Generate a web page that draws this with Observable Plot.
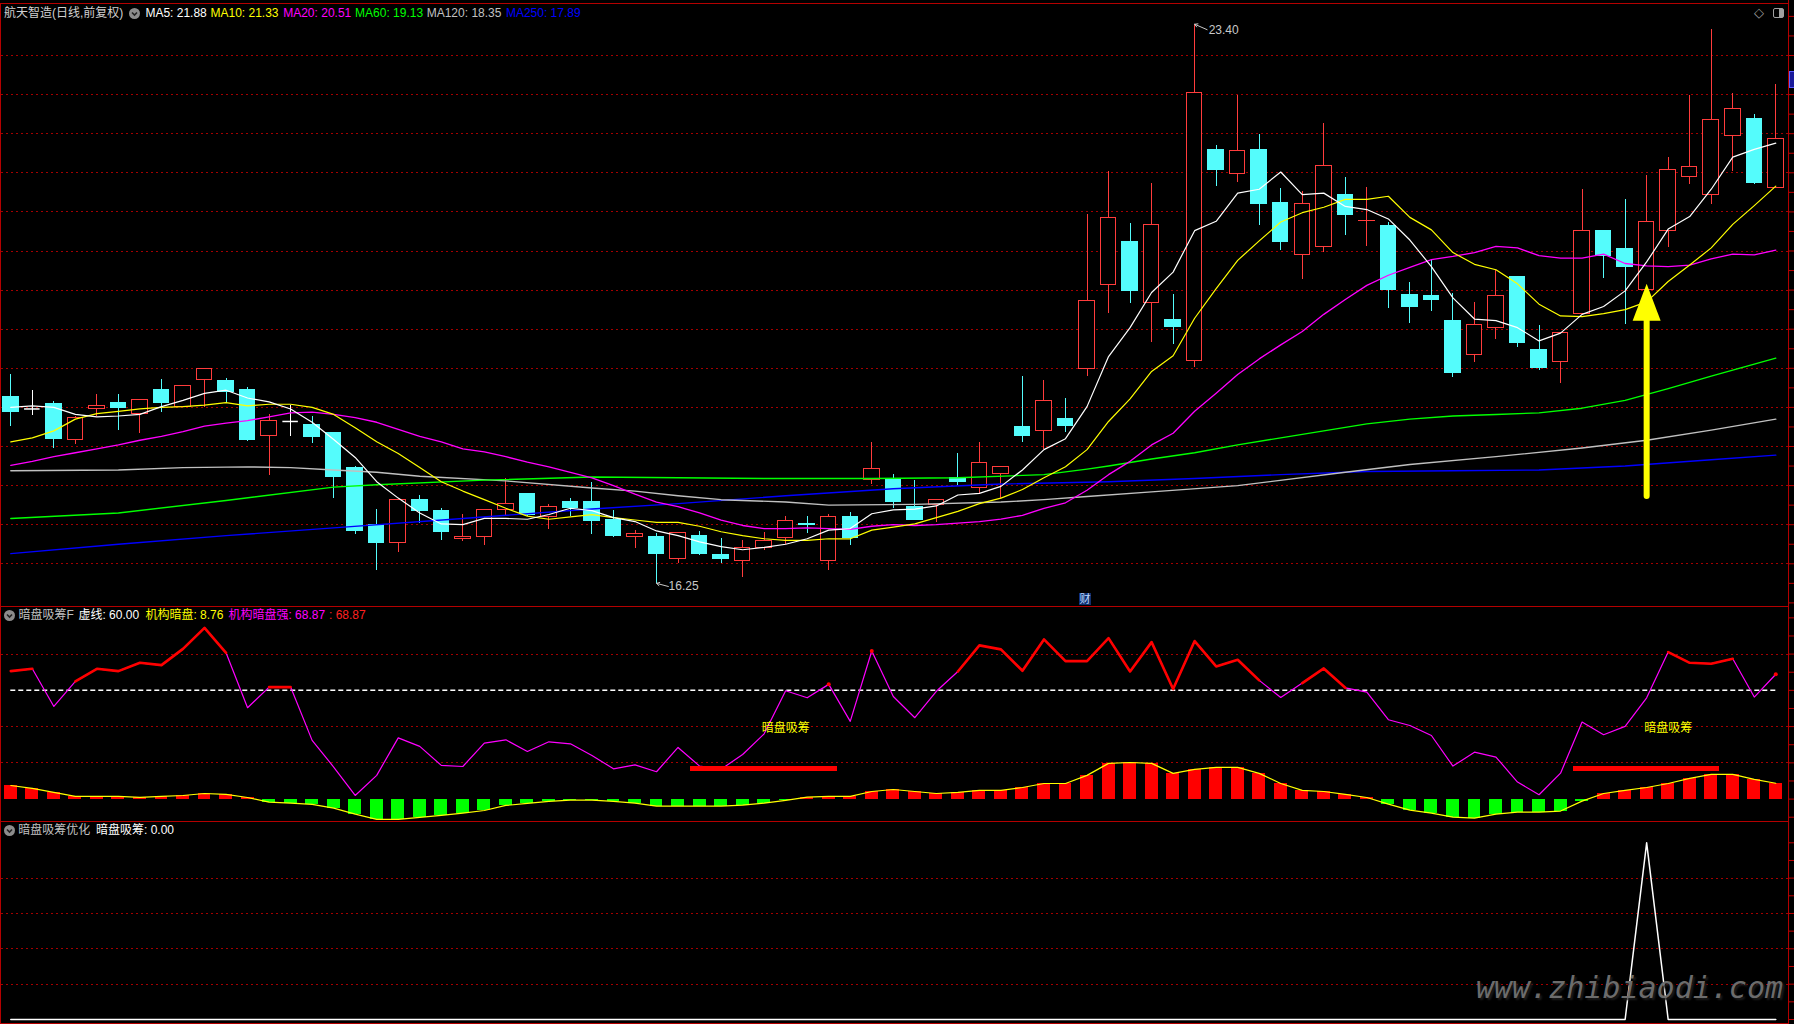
<!DOCTYPE html>
<html><head><meta charset="utf-8">
<script src="https://cdn.jsdelivr.net/npm/d3@7"></script>
<script src="https://cdn.jsdelivr.net/npm/@observablehq/plot@0.6"></script>
<style>
html,body{margin:0;padding:0;background:#000;}
#root{position:relative;width:1794px;height:1024px;background:#000;overflow:hidden;font-family:"Liberation Sans",Arial,"Noto Sans CJK SC",sans-serif;}
#root svg.pp{position:absolute;left:0;}
.lbl{position:absolute;font-size:12px;line-height:14px;white-space:nowrap;font-family:"Liberation Sans","Noto Sans CJK SC",sans-serif;}
.hl{position:absolute;background:#b40000;}
.ico{position:absolute;width:11px;height:11px;}
</style></head><body><div id="root"></div>
<script>
// ---------- data ----------
const stockName = "航天智造(日线,前复权)";
const openP = [18.63,18.48,18.54,18.08,18.48,18.55,18.42,18.72,18.51,18.85,
18.84,18.72,18.14,18.32,18.27,18.17,17.73,16.99,16.77,17.32,
17.17,16.82,16.84,17.19,17.39,17.10,17.29,17.29,17.06,16.84,
16.84,16.56,16.86,16.61,16.53,16.70,16.83,17.01,16.54,17.10,
17.57,17.57,17.23,17.25,17.60,17.47,17.65,18.25,18.20,18.35,
18.99,20.07,20.62,19.84,19.62,19.09,21.79,21.49,21.79,21.12,
20.45,20.55,21.21,20.88,20.82,19.94,19.93,19.61,19.17,19.52,
20.17,19.23,19.08,19.70,20.75,20.52,20.00,20.76,21.45,21.21,
21.97,22.19,21.31];
const highP = [18.92,18.72,18.57,18.39,18.67,18.67,18.59,18.86,18.78,19.00,
18.87,18.75,18.41,18.52,18.38,18.17,17.75,17.19,17.31,17.37,
17.21,17.13,17.19,17.59,17.39,17.26,17.34,17.54,17.18,16.92,
16.89,16.89,16.91,16.82,16.80,16.90,17.10,17.10,17.13,17.15,
18.05,17.64,17.57,17.32,17.91,18.05,17.74,18.89,18.84,18.62,
20.97,21.52,20.85,21.36,19.94,23.40,21.85,22.49,21.99,21.30,
21.26,22.13,21.44,21.31,20.86,20.10,20.38,19.96,19.84,20.25,
20.17,19.55,19.45,21.29,20.76,21.16,21.47,21.70,22.49,23.33,
22.51,22.25,22.63];
const lowP = [18.25,18.40,17.97,18.02,18.38,18.20,18.16,18.44,18.50,18.50,
18.55,18.07,17.63,18.13,18.04,17.33,16.87,16.42,16.65,17.01,
16.80,16.79,16.73,17.12,17.10,16.94,17.10,16.87,16.84,16.69,
16.25,16.50,16.61,16.51,16.32,16.67,16.75,16.89,16.42,16.74,
17.51,17.21,17.06,17.03,17.50,17.38,17.34,18.05,17.96,18.18,
18.90,19.70,19.83,19.33,19.30,19.01,21.33,21.38,20.83,20.51,
20.14,20.48,20.70,20.56,19.76,19.57,19.72,18.88,19.08,19.37,
19.26,18.97,18.81,19.70,20.15,19.56,20.00,20.55,21.35,21.10,
21.52,21.35,21.31];
const closeP = [18.44,18.48,18.10,18.37,18.52,18.49,18.59,18.56,18.77,18.99,
18.70,18.08,18.33,18.32,18.12,17.61,16.92,16.76,17.31,17.17,
16.91,16.84,17.19,17.27,17.13,17.23,17.21,17.05,16.85,16.88,
16.63,16.89,16.63,16.56,16.70,16.79,17.05,17.00,17.10,16.83,
17.71,17.29,17.06,17.32,17.54,17.79,17.74,18.13,18.58,18.26,
19.86,20.92,19.99,20.83,19.53,22.52,21.53,21.78,21.10,20.61,
21.10,21.59,20.96,20.89,20.00,19.78,19.87,18.94,19.55,19.92,
19.32,19.00,19.45,20.76,20.43,20.29,20.87,21.53,21.58,22.18,
22.32,21.37,21.93];

const ma5 = [18.50,18.52,18.50,18.41,18.38,18.39,18.41,18.51,18.59,18.68,
18.72,18.62,18.57,18.48,18.31,18.09,17.86,17.55,17.34,17.15,
17.01,17.00,17.08,17.08,17.07,17.13,17.21,17.18,17.09,17.04,
16.92,16.86,16.78,16.72,16.68,16.71,16.75,16.82,16.93,16.95,
17.14,17.19,17.20,17.24,17.38,17.40,17.49,17.70,17.96,18.10,
18.51,19.15,19.52,19.97,20.23,20.76,20.88,21.24,21.29,21.51,
21.22,21.24,21.07,21.03,20.91,20.64,20.30,19.90,19.63,19.61,
19.52,19.35,19.45,19.69,19.79,19.99,20.36,20.78,20.94,21.29,
21.70,21.80,21.88];
const ma10 = [18.06,18.11,18.20,18.35,18.42,18.45,18.48,18.50,18.51,18.53,
18.56,18.52,18.54,18.54,18.50,18.41,18.24,18.06,17.91,17.73,
17.55,17.43,17.32,17.21,17.11,17.07,17.10,17.13,17.09,17.06,
17.03,17.03,16.98,16.91,16.86,16.82,16.80,16.80,16.82,16.82,
16.93,16.97,17.01,17.09,17.17,17.27,17.34,17.45,17.60,17.74,
17.96,18.32,18.61,18.96,19.16,19.64,20.02,20.38,20.63,20.87,
20.99,21.06,21.16,21.16,21.20,20.93,20.77,20.48,20.33,20.26,
20.08,19.82,19.67,19.66,19.70,19.75,19.85,20.11,20.32,20.54,
20.84,21.08,21.33];
const ma20 = [17.76,17.81,17.87,17.92,17.97,18.02,18.08,18.13,18.19,18.26,
18.30,18.33,18.38,18.43,18.44,18.41,18.37,18.31,18.22,18.13,
18.06,17.97,17.93,17.87,17.80,17.74,17.67,17.60,17.50,17.39,
17.29,17.23,17.15,17.06,16.99,16.95,16.95,16.96,16.95,16.94,
16.98,17.00,16.99,17.00,17.02,17.04,17.07,17.12,17.21,17.28,
17.44,17.64,17.81,18.02,18.17,18.45,18.68,18.92,19.12,19.30,
19.47,19.69,19.88,20.06,20.19,20.29,20.39,20.43,20.48,20.56,
20.54,20.44,20.41,20.41,20.46,20.34,20.31,20.30,20.32,20.40,
20.46,20.45,20.51];
const ma60Idx = [0,5,10,15,17,22,27,31,35,40,44,48,50,51,53,55,57,59,61,63,65,67,69,71,73,75,77,79,82];
const ma60Val = [17.08,17.15,17.31,17.48,17.51,17.57,17.61,17.60,17.59,17.59,17.60,17.64,17.71,17.75,17.84,17.92,18.02,18.11,18.20,18.29,18.35,18.39,18.41,18.43,18.49,18.59,18.74,18.90,19.13];
const ma120Idx = [0,5,8,11,13,15,17,19,23,27,29,31,33,36,38,42,46,48,50,53,57,62,65,69,73,76,79,82];
const ma120Val = [17.69,17.70,17.73,17.74,17.73,17.70,17.67,17.62,17.56,17.47,17.43,17.37,17.32,17.29,17.25,17.26,17.29,17.32,17.36,17.42,17.50,17.67,17.77,17.87,17.98,18.08,18.21,18.35];
const ma250Idx = [0,5,10,15,21,27,31,36,41,46,51,55,59,63,67,71,75,79,82];
const ma250Val = [16.63,16.75,16.86,16.96,17.08,17.20,17.27,17.37,17.46,17.52,17.55,17.59,17.64,17.68,17.69,17.70,17.75,17.83,17.89];

// indicator panel: 暗盘吸筹F
const xuXian = 60;
const jgAnpan = [7.5,5.9,3.7,1.5,1.5,1.5,0.9,1.5,2.0,3.1,
2.6,0.9,-1.7,-2.2,-2.9,-5.0,-8.3,-11.2,-11.2,-10.1,
-9.0,-7.7,-6.3,-3.5,-2.4,-1.3,-0.6,-0.6,-1.3,-2.2,
-3.9,-3.9,-3.9,-3.9,-3.3,-2.2,-0.7,1.1,1.5,1.5,
4.2,5.3,4.2,3.1,3.7,4.8,4.8,6.4,8.6,8.6,
13.1,19.7,20.2,19.7,14.2,16.4,17.5,17.5,14.2,8.6,
4.8,4.2,2.6,0.9,-2.8,-6.1,-7.7,-9.9,-10.5,-8.3,
-7.2,-7.2,-6.6,-1.1,3.1,4.8,6.4,8.6,11.4,13.6,
13.6,10.9,8.76];
const jgQiang = [70.6,71.9,51.1,64.9,71.9,70.6,75.2,73.9,82.9,94.5,
80.7,50.4,61.8,61.8,32.4,17.7,2.0,13.1,33.8,29.1,
18.6,18.0,30.9,32.7,26.3,31.6,30.5,24.1,16.7,18.9,
15.1,28.5,18.2,16.5,24.6,36.0,59.8,55.9,63.3,42.9,
81.7,56.6,44.9,59.5,70.4,84.8,82.6,70.8,88.1,76.1,
76.1,88.8,70.4,86.6,60.7,87.2,73.2,76.9,65.5,56.1,
64.0,72.1,61.4,59.0,43.8,40.6,35.1,18.2,25.9,23.2,
9.4,2.4,14.3,42.5,35.5,40.1,55.9,81.1,75.2,74.7,
77.4,56.3,68.87];
const signalStart = [32, 73];
const signalEnd = [38, 79];
const signalLow = 15, signalHigh = 18;
const signalTextIdx = [36, 77];
const signalTextVal = 39;
const signalText = "暗盘吸筹";

// bottom panel: 暗盘吸筹优化
const xiChou = [0,0,0,0,0,0,0,0,0,0, 0,0,0,0,0,0,0,0,0,0,
0,0,0,0,0,0,0,0,0,0, 0,0,0,0,0,0,0,0,0,0,
0,0,0,0,0,0,0,0,0,0, 0,0,0,0,0,0,0,0,0,0,
0,0,0,0,0,0,0,0,0,0, 0,0,0,0,0,0,1,0,0,0,
0,0,0];

// yellow arrow annotation (candle index, from price, to price)
const arrowIdx = 76, arrowFrom = 17.36, arrowTo = 20.08;

// grid levels / ticks
const priceGrid = [16.5,17,17.5,18,18.5,19,19.5,20,20.5,21,21.5,22,22.5,23];
const indGrid = [20, 40, 80];
const botGrid = [0.2, 0.4, 0.6, 0.8];

// ---------- build ----------
const N = closeP.length;
const root = document.getElementById("root");
const candles = d3.range(N).map(i => ({i, o: openP[i], h: highP[i], l: lowP[i], c: closeP[i]}));
const UP = "#ff3c3c", DOWN = "#54fcfc", FLAT = "#ffffff";
const ccol = d => d.c > d.o ? UP : d.c < d.o ? DOWN : FLAT;
const GRID = "#a40000";
const GRIDDASH = "2,3";
const W = 1794;
const X = {type: "linear", domain: [0, N - 1], range: [10.3, 1775.3], axis: null};
const series = (arr) => arr.map((v, i) => ({i, v}));
const pts = (ix, vals) => ix.map((i, k) => ({i, v: vals[k]}));
const HB = 0.36;

const hiIdx = d3.maxIndex(highP), loIdx = d3.minIndex(lowP);
const hiPt = [{i: hiIdx, p: highP[hiIdx]}];
const loPt = [{i: loIdx, p: lowP[loIdx]}];

const headSym = {draw(ctx) { ctx.moveTo(0, 0); ctx.lineTo(-14, 37); ctx.lineTo(14, 37); ctx.closePath(); }};

const mainPlot = Plot.plot({
  width: W, height: 607,
  marginLeft: 1, marginRight: 6, marginTop: 0, marginBottom: 0,
  x: X,
  y: {domain: [16.5, 23], range: [563.3, 55]},
  color: {type: "identity"},
  style: {background: "transparent", overflow: "visible"},
  marks: [
    Plot.ruleY(priceGrid, {y: d => d, stroke: GRID, strokeDasharray: GRIDDASH, strokeWidth: 1, shapeRendering: "crispEdges"}),
    Plot.ruleX(candles, {x: "i", y1: "l", y2: "h", stroke: ccol, strokeWidth: 1, shapeRendering: "crispEdges"}),
    Plot.rect(candles.filter(d => d.o !== d.c), {x1: d => d.i - HB, x2: d => d.i + HB, y1: "o", y2: "c",
      fill: d => d.c > d.o ? "#000" : DOWN, stroke: ccol, strokeWidth: 1, shapeRendering: "crispEdges"}),
    Plot.ruleY(candles.filter(d => d.o === d.c), {y: "o", x1: d => d.i - HB, x2: d => d.i + HB, stroke: ccol, strokeWidth: 1.5}),
    Plot.line(pts(ma250Idx, ma250Val), {x: "i", y: "v", stroke: "#0000ff", strokeWidth: 1.4}),
    Plot.line(pts(ma120Idx, ma120Val), {x: "i", y: "v", stroke: "#c0c0c0", strokeWidth: 1.4}),
    Plot.line(pts(ma60Idx, ma60Val), {x: "i", y: "v", stroke: "#00ff00", strokeWidth: 1.4}),
    Plot.line(series(ma20), {x: "i", y: "v", stroke: "#ff00ff", strokeWidth: 1.3}),
    Plot.line(series(ma10), {x: "i", y: "v", stroke: "#ffff00", strokeWidth: 1.2}),
    Plot.line(series(ma5), {x: "i", y: "v", stroke: "#ffffff", strokeWidth: 1.2}),
    Plot.arrow(hiPt, {x1: d => d.i + 0.58, y1: d => d.p - 0.07, x2: "i", y2: "p", stroke: "#c8c8c8", strokeWidth: 1, headLength: 5}),
    Plot.text(hiPt, {x: "i", y: "p", text: d => d.p.toFixed(2), dx: 14, dy: 5.5, textAnchor: "start", fill: "#c8c8c8", fontSize: 12, fontFamily: "Liberation Sans"}),
    Plot.arrow(loPt, {x1: d => d.i + 0.55, y1: d => d.p - 0.04, x2: "i", y2: "p", stroke: "#c8c8c8", strokeWidth: 1, headLength: 5}),
    Plot.text(loPt, {x: "i", y: "p", text: d => d.p.toFixed(2), dx: 12, dy: 2.5, textAnchor: "start", fill: "#c8c8c8", fontSize: 12, fontFamily: "Liberation Sans"}),
    Plot.ruleX([{i: arrowIdx, a: arrowFrom, b: arrowTo - 0.3}], {x: "i", y1: "a", y2: "b", stroke: "#ffff00", strokeWidth: 6, strokeLinecap: "round"}),
    Plot.dot([{i: arrowIdx, p: arrowTo}], {x: "i", y: "p", symbol: headSym, fill: "#ffff00", r: 5}),
    Plot.axisY({anchor: "right", ticks: d3.range(16, 23.51, 0.25), tickSize: 5, tickFormat: () => "", label: null, stroke: "#c00000"})
  ]
});

const ind = d3.range(N).map(i => ({i, a: jgAnpan[i], q: jgQiang[i]}));
const isolated = ind.filter((d, k) => d.q > xuXian && !(k > 0 && ind[k-1].q > xuXian) && !(k < N - 1 && ind[k+1].q > xuXian));
const signals = signalStart.map((s, k) => ({s, e: signalEnd[k], t: signalTextIdx[k]}));

const midPlot = Plot.plot({
  width: W, height: 215,
  marginLeft: 1, marginRight: 6, marginTop: 0, marginBottom: 0,
  x: X,
  y: {domain: [0, 100], range: [191.6, 10.35]},
  color: {type: "identity"},
  style: {background: "transparent", overflow: "visible"},
  marks: [
    Plot.ruleY(indGrid, {y: d => d, stroke: GRID, strokeDasharray: GRIDDASH, strokeWidth: 1, shapeRendering: "crispEdges"}),
    Plot.ruleY([xuXian], {y: d => d, x1: 0, x2: N - 1, stroke: "#ffffff", strokeDasharray: "5,3", strokeWidth: 1.5}),
    Plot.rect(ind, {x1: d => d.i - 0.3, x2: d => d.i + 0.3, y1: 0, y2: "a", fill: d => d.a >= 0 ? "#ff0000" : "#00ff00", shapeRendering: "crispEdges"}),
    Plot.line(ind, {x: "i", y: "a", stroke: "#ffff00", strokeWidth: 1.2}),
    Plot.line(ind, {x: "i", y: "q", stroke: "#ff00ff", strokeWidth: 1.2}),
    Plot.line(ind, {x: "i", y: d => d.q > xuXian ? d.q : NaN, stroke: "#ff0000", strokeWidth: 2.6}),
    Plot.dot(isolated, {x: "i", y: "q", fill: "#ff0000", r: 2}),
    Plot.rect(signals, {x1: d => d.s - 0.4, x2: d => d.e + 0.4, y1: signalLow, y2: signalHigh, fill: "#ff0000", shapeRendering: "crispEdges"}),
    Plot.text(signals, {x: "t", y: signalTextVal, text: () => signalText, fill: "#ffff00", fontSize: 12, fontFamily: "Noto Sans CJK SC"}),
    Plot.axisY({anchor: "right", ticks: d3.range(-10, 101, 10), tickSize: 5, tickFormat: () => "", label: null, stroke: "#c00000"})
  ]
});

const botPlot = Plot.plot({
  width: W, height: 202,
  marginLeft: 1, marginRight: 6, marginTop: 0, marginBottom: 0,
  x: X,
  y: {domain: [0, 1], range: [197, 20.3]},
  color: {type: "identity"},
  style: {background: "transparent", overflow: "visible"},
  marks: [
    Plot.ruleY(botGrid, {y: d => d, stroke: GRID, strokeDasharray: GRIDDASH, strokeWidth: 1, shapeRendering: "crispEdges"}),
    Plot.line(series(xiChou), {x: "i", y: "v", stroke: "#ffffff", strokeWidth: 1.5}),
    Plot.axisY({anchor: "right", ticks: d3.range(0, 1.01, 0.1), tickSize: 5, tickFormat: () => "", label: null, stroke: "#c00000"})
  ]
});

[[mainPlot, 0], [midPlot, 607], [botPlot, 822]].forEach(([p, top]) => {
  p.classList.add("pp");
  p.style.top = top + "px";
  root.appendChild(p);
});

// borders
function hline(x, y, w, h, color) {
  const d = document.createElement("div");
  d.className = "hl";
  Object.assign(d.style, {left: x + "px", top: y + "px", width: w + "px", height: h + "px"});
  if (color) d.style.background = color;
  root.appendChild(d);
}
hline(0, 3, 1789, 1);
hline(0, 606, 1789, 1);
hline(0, 821, 1789, 1);
hline(0, 1023, 1789, 1);
hline(0, 3, 1, 1021);
hline(1788, 0, 1, 1024);

// labels
function label(text, x, y, color, extra) {
  const d = document.createElement("div");
  d.className = "lbl";
  d.textContent = text;
  Object.assign(d.style, {left: x + "px", top: y + "px", color});
  if (extra) Object.assign(d.style, extra);
  root.appendChild(d);
  return d;
}
function icon(cx, cy) {
  const ns = "http://www.w3.org/2000/svg";
  const s = document.createElementNS(ns, "svg");
  s.setAttribute("class", "ico");
  s.setAttribute("width", 11); s.setAttribute("height", 11);
  s.style.left = (cx - 5.5) + "px"; s.style.top = (cy - 5.5) + "px";
  s.innerHTML = '<circle cx="5.5" cy="5.5" r="5.5" fill="#8c8c8c"/><polyline points="3,4.5 5.5,7 8,4.5" fill="none" stroke="#222" stroke-width="1.6"/>';
  root.appendChild(s);
}
const f2 = v => v.toFixed(2);
label(stockName, 4, 6, "#d0d0d0");
icon(134.7, 13.3);
label("MA5: " + f2(ma5[N-1]), 145.4, 6, "#ffffff");
label("MA10: " + f2(ma10[N-1]), 210.5, 6, "#ffff00");
label("MA20: " + f2(ma20[N-1]), 283.2, 6, "#ff00ff");
label("MA60: " + f2(ma60Val[ma60Val.length-1]), 355.1, 6, "#00ff00");
label("MA120: " + f2(ma120Val[ma120Val.length-1]), 426.7, 6, "#c0c0c0");
label("MA250: " + f2(ma250Val[ma250Val.length-1]), 505.9, 6, "#0000ff");

icon(9.6, 615);
label("暗盘吸筹F", 18.4, 608, "#c0c0c0");
label("虚线: " + f2(xuXian), 78.4, 608, "#ffffff");
label("机构暗盘: " + f2(jgAnpan[N-1]), 145.4, 608, "#ffff00");
label("机构暗盘强: " + f2(jgQiang[N-1]), 228.4, 608, "#ff00ff");
label(": " + f2(jgQiang[N-1]), 329, 608, "#ff2020");

icon(9, 830);
label("暗盘吸筹优化", 18.3, 823, "#c0c0c0");
label("暗盘吸筹: " + f2(xiChou[N-1]), 96, 823, "#ffffff");

// small chart furniture
label("财", 1079, 593, "#bcd8ff", {background: "#10306e", width: "12px", height: "12px", lineHeight: "12px", fontSize: "11px", textAlign: "center"});
label("◇", 1754, 6, "#a0a0a0", {fontSize: "13px", fontFamily: "DejaVu Sans"});
const tog = document.createElement("div");
Object.assign(tog.style, {position: "absolute", left: "1773px", top: "8px", width: "9px", height: "8px", border: "1.5px solid #a0a0a0", borderRadius: "2px", background: "linear-gradient(90deg, transparent 55%, #a0a0a0 55%)"});
root.appendChild(tog);
const zb = document.createElement("div");
Object.assign(zb.style, {position: "absolute", left: "1789px", top: "71px", width: "6px", height: "15px", background: "#1a1a9a", border: "1px solid #5a5aff"});
root.appendChild(zb);
label("www.zhibiaodi.com", 1476, 973, "#6c6c6c", {fontFamily: "DejaVu Sans Mono", fontStyle: "italic", fontSize: "30px", lineHeight: "30px", textShadow: "2px 2px 2px #1c1c1c"});
</script></body></html>
